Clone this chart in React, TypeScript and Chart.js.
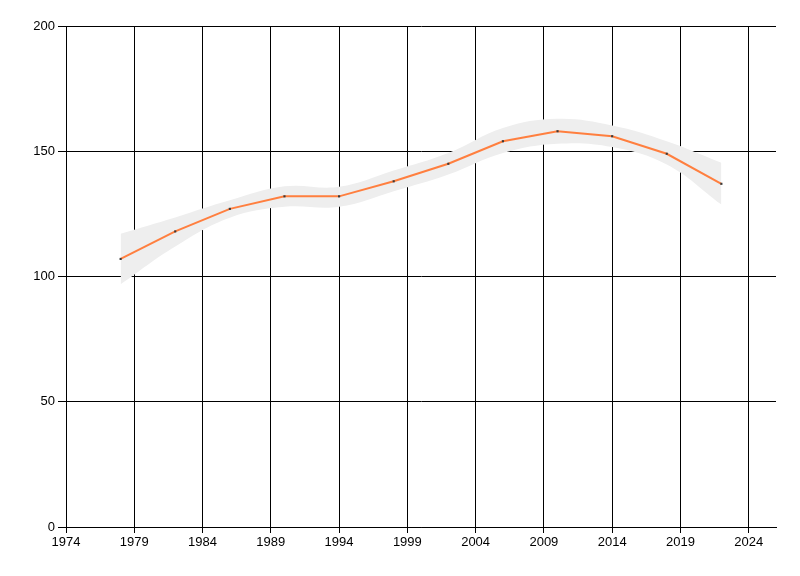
import React, { useEffect, useRef } from 'react';
import { Chart, registerables } from 'chart.js';

Chart.register(...registerables);

const years = [1978, 1982, 1986, 1990, 1994, 1998, 2002, 2006, 2010, 2014, 2018, 2022];
const values = [107, 118, 127, 132, 132, 138, 145, 154, 158, 156, 149, 137];
const upper = [117.1, 123.6, 130.4, 136, 135.8, 142.3, 149.3, 159.3, 163, 160.3, 154, 145.4];
const lower = [96.9, 112, 123.5, 127.8, 127.8, 134, 140.7, 149.3, 153, 151.7, 144.7, 128.7];
const xTicks = [1974, 1979, 1984, 1989, 1994, 1999, 2004, 2009, 2014, 2019, 2024];

const FONT = { family: "'Liberation Sans Narrow', 'Liberation Sans', sans-serif", size: 13 };

export default function App() {
  const ref = useRef<HTMLCanvasElement | null>(null);
  useEffect(() => {
    if (!ref.current) return;
    const pts = (arr: number[]) => years.map((x, i) => ({ x, y: arr[i] }));
    const chart = new Chart(ref.current, {
      type: 'line',
      data: {
        datasets: [
          {
            data: pts(values),
            borderColor: '#ff7f3f',
            borderWidth: 2,
            pointRadius: 1.5,
            pointStyle: 'rect',
            pointBackgroundColor: '#3a3a3a',
            pointBorderColor: '#3a3a3a',
            pointBorderWidth: 0,
            tension: 0,
            fill: false,
            order: 0,
          },
          {
            data: pts(upper),
            borderWidth: 0,
            borderColor: 'rgba(0,0,0,0)',
            pointRadius: 0,
            tension: 0.4,
            backgroundColor: '#eeeeee',
            fill: '+1',
            order: 1,
          },
          {
            data: pts(lower),
            borderWidth: 0,
            borderColor: 'rgba(0,0,0,0)',
            pointRadius: 0,
            tension: 0.4,
            fill: false,
            order: 2,
          },
        ],
      },
      options: {
        responsive: false,
        animation: false,
        layout: { padding: { top: 26, right: 24, left: 0, bottom: 0 } },
        plugins: { legend: { display: false }, tooltip: { enabled: false } },
        scales: {
          x: {
            type: 'linear',
            min: 1974,
            max: 2026,
            afterBuildTicks: (scale: any) => {
              scale.ticks = xTicks.map((v) => ({ value: v }));
            },
            afterFit: (scale: any) => {
              scale.height = 49;
            },
            grid: { color: '#000', lineWidth: 1, tickLength: 6, drawTicks: true },
            border: { color: '#000', width: 1 },
            ticks: {
              autoSkip: false,
              maxRotation: 0,
              color: '#000',
              font: FONT,
              padding: 2,
              callback: (v: any) => String(v),
            },
          },
          y: {
            min: 0,
            max: 200,
            afterFit: (scale: any) => {
              scale.width = 66;
            },
            grid: { color: '#000', lineWidth: 1, tickLength: 8, drawTicks: true },
            border: { color: '#000', width: 1 },
            ticks: { stepSize: 50, color: '#000', font: FONT, padding: 3 },
          },
        },
      },
    });
    return () => chart.destroy();
  }, []);
  return (
    <div style={{ position: 'fixed', left: 0, top: 0, width: 800, height: 576, background: '#fff' }}>
      <canvas ref={ref} width={800} height={576} style={{ display: 'block' }} />
    </div>
  );
}
